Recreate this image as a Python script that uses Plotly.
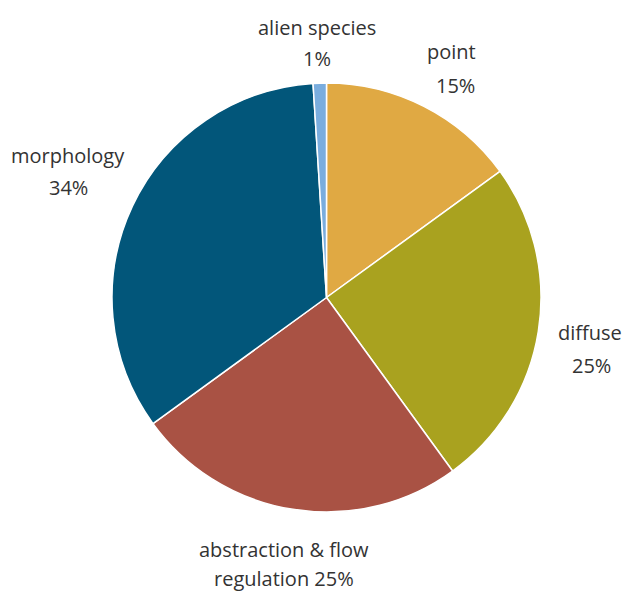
import plotly.graph_objects as go

labels = ["point", "diffuse", "abstraction & flow regulation", "morphology", "alien species"]
values = [15, 25, 25, 34, 1]
colors = ["#E0A943", "#A9A21F", "#A95244", "#02567A", "#7AADDE"]

# text lines for each slice label (name, then percentage)
label_lines = [
    ["point", "15%"],
    ["diffuse", "25%"],
    ["abstraction & flow", "regulation 25%"],
    ["morphology", "34%"],
    ["alien species", "1%"],
]
# pixel centers of each text line
label_pos = [
    [(452, 52), (456, 85)],
    [(590, 332), (591, 365)],
    [(284, 549), (284, 578)],
    [(68, 155), (68, 187)],
    [(317, 27), (317, 58)],
]

W, H = 628, 592
cx0, cx1, cy0, cy1 = 112, 541, 83, 512

fig = go.Figure(go.Pie(
    labels=labels, values=values, sort=False, direction="clockwise", rotation=0,
    marker=dict(colors=colors, line=dict(color="white", width=1.5)),
    textinfo="none", hoverinfo="label+percent", showlegend=False,
    domain=dict(x=[cx0 / W, cx1 / W], y=[1 - cy1 / H, 1 - cy0 / H]),
))

for lines, poss in zip(label_lines, label_pos):
    for t, (x, y) in zip(lines, poss):
        fig.add_annotation(x=x / W, y=1 - y / H, xref="paper", yref="paper",
                           text=t, showarrow=False, xanchor="center", yanchor="middle",
                           font=dict(family="Open Sans", size=20, color="#333333"))

fig.update_layout(width=W, height=H, margin=dict(l=0, r=0, t=0, b=0),
                  paper_bgcolor="white", plot_bgcolor="white")
fig.write_html("out.html", config={"displayModeBar": False},
               post_script="document.body.style.margin='0';")
